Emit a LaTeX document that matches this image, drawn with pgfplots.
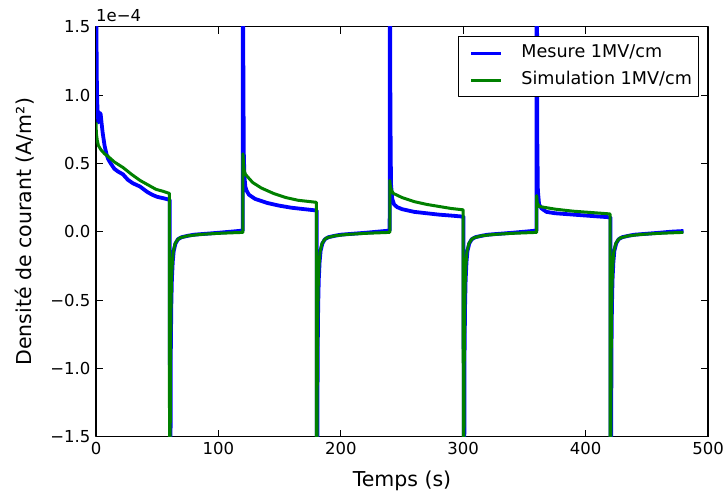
\documentclass[border=0pt]{standalone}
\usepackage{pgfplots}
\pgfplotsset{compat=1.18}
\usepackage{fontspec}
\setmainfont{DejaVu Sans}
\definecolor{mblue}{RGB}{0,0,255}
\definecolor{mgreen}{RGB}{0,128,0}
\begin{document}
\begin{tikzpicture}
\begin{axis}[
  scale only axis, width=612pt, height=410pt,
  xmin=0, xmax=500, ymin=-1.5, ymax=1.5,
  xtick={0,100,200,300,400,500},
  xticklabels={0,100,200,300,400,500},
  ytick={-1.5,-1.0,-0.5,0.0,0.5,1.0,1.5},
  yticklabels={−1.5,−1.0,−0.5,0.0,0.5,1.0,1.5},
  tick align=inside, major tick length=7pt,
  tick style={black, line width=0.8pt},
  axis line style={line width=1.2pt},
  ticklabel style={font=\fontsize{16.5}{19}\selectfont},
  xticklabel style={yshift=-2pt},
  yticklabel style={xshift=-2pt},
  xlabel={Temps (s)}, ylabel={Densité de courant (A/m²)},
  xlabel style={font=\fontsize{20.5}{24}\selectfont, at={(axis description cs:0.5,0)}, anchor=center, yshift=-44.5pt},
  ylabel style={font=\fontsize{20.5}{24}\selectfont, at={(axis description cs:-0.116,0.5)}, anchor=center, rotate=0},
  legend style={at={(1,1)}, anchor=north east, xshift=-9pt, yshift=-9.7pt,
    draw=black, line width=1pt, font=\fontsize{17.6}{21}\selectfont,
    row sep=11pt, column sep=18.7pt, inner xsep=6.6pt, inner ysep=8.5pt,
    nodes={inner sep=0pt, text height=12pt, text depth=4pt}},
  legend cell align=left,
  legend image code/.code={\path (-4.4pt,0pt); \draw[#1, line width=3pt] (0pt,0pt) -- (30pt,0pt);},
  line join=round,
]
\addplot[mblue, line width=3.8pt, line join=round] coordinates {
(0,3)(0.3,1.6)(0.6,1.15)(1,0.95)(1.5,0.85)(2,0.8)(2.5,0.84)(3,0.87)(3.8,0.86)(4.5,0.8)(5.5,0.72)(7,0.63)(8.5,0.57)(10,0.53)(12,0.5)(15,0.46)(18,0.44)(22,0.42)(26,0.38)(30,0.355)(36,0.33)(42,0.29)(46,0.27)(50,0.255)(55,0.245)(59.5,0.235)
(60.3,0.23)(60.5,-3)(61.1,-0.9)(61.5,-0.55)(62,-0.35)(62.7,-0.22)(63.5,-0.14)(65,-0.085)(67,-0.055)(70,-0.04)(75,-0.03)(80,-0.022)(90,-0.015)(100,-0.008)(110,0)(119.9,0.008)
(120.1,3)(120.4,1.1)(120.8,0.55)(121.3,0.4)(122,0.33)(123,0.3)(125,0.27)(130,0.24)(135,0.225)(140,0.21)(150,0.19)(160,0.175)(170,0.165)(180.3,0.155)
(180.5,-3)(181.1,-0.9)(181.5,-0.55)(182,-0.35)(182.7,-0.22)(183.5,-0.14)(185,-0.085)(187,-0.055)(190,-0.04)(195,-0.03)(200,-0.022)(210,-0.015)(220,-0.008)(230,0)(239.9,0.008)
(240.1,3)(240.5,0.9)(241,0.35)(242,0.24)(243.5,0.2)(246,0.18)(250,0.165)(260,0.145)(270,0.135)(280,0.125)(290,0.118)(300.3,0.11)
(300.5,-3)(301.1,-0.9)(301.5,-0.55)(302,-0.35)(302.7,-0.22)(303.5,-0.14)(305,-0.085)(307,-0.055)(310,-0.04)(315,-0.03)(320,-0.022)(330,-0.015)(340,-0.008)(350,0)(359.9,0.008)
(360.1,3)(360.5,0.7)(361,0.3)(362,0.2)(364,0.17)(368,0.145)(375,0.135)(390,0.125)(405,0.115)(420.3,0.105)
(420.5,-3)(421.1,-0.9)(421.5,-0.55)(422,-0.35)(422.7,-0.22)(423.5,-0.14)(425,-0.085)(427,-0.055)(430,-0.04)(435,-0.03)(440,-0.022)(450,-0.015)(460,-0.008)(470,0)(480,0.005)
};
\addlegendentry{Mesure 1MV/cm}
\addplot[mgreen, line width=3pt, line join=round] coordinates {
(0,0.8)(0.3,0.72)(1,0.67)(2,0.63)(4,0.6)(7,0.57)(10,0.55)(15,0.51)(22,0.47)(29,0.42)(36,0.375)(42,0.345)(49,0.31)(55,0.295)(60,0.28)
(60.1,-3)(60.8,-1.0)(61.2,-0.6)(61.6,-0.38)(62.2,-0.25)(63,-0.15)(64.5,-0.09)(66.5,-0.06)(68.5,-0.045)(75,-0.03)(85,-0.02)(100,-0.012)(120,-0.005)
(120,0.57)(120.5,0.5)(121,0.45)(122,0.42)(125,0.39)(128,0.36)(135,0.32)(145,0.28)(155,0.25)(165,0.23)(180,0.215)
(180.1,-3)(180.8,-1.0)(181.2,-0.6)(181.6,-0.38)(182.2,-0.25)(183,-0.15)(184.5,-0.09)(186.5,-0.06)(188.5,-0.045)(195,-0.03)(205,-0.02)(220,-0.012)(240,-0.005)
(240,0.375)(240.5,0.33)(241.5,0.3)(243,0.28)(250,0.25)(260,0.22)(270,0.2)(280,0.185)(290,0.17)(300,0.16)
(300.1,-3)(300.8,-1.0)(301.2,-0.6)(301.6,-0.38)(302.2,-0.25)(303,-0.15)(304.5,-0.09)(306.5,-0.06)(308.5,-0.045)(315,-0.03)(325,-0.02)(340,-0.012)(360,-0.005)
(360,0.265)(360.5,0.21)(362,0.185)(365,0.18)(375,0.165)(390,0.15)(405,0.14)(420,0.13)
(420.1,-3)(420.8,-1.0)(421.2,-0.6)(421.6,-0.38)(422.2,-0.25)(423,-0.15)(424.5,-0.09)(426.5,-0.06)(428.5,-0.045)(435,-0.03)(445,-0.02)(460,-0.012)(479.8,-0.005)
};
\addlegendentry{Simulation 1MV/cm}
\end{axis}
\node[anchor=south west, font=\fontsize{16.5}{19}\selectfont, inner sep=0pt] at ([yshift=5pt]current axis.north west) {1e−4};
\pgfresetboundingbox
\path[use as bounding box] ([xshift=-96pt,yshift=-60.5pt]current axis.south west) rectangle ([xshift=19pt,yshift=26.7pt]current axis.north east);
\end{tikzpicture}
\end{document}
